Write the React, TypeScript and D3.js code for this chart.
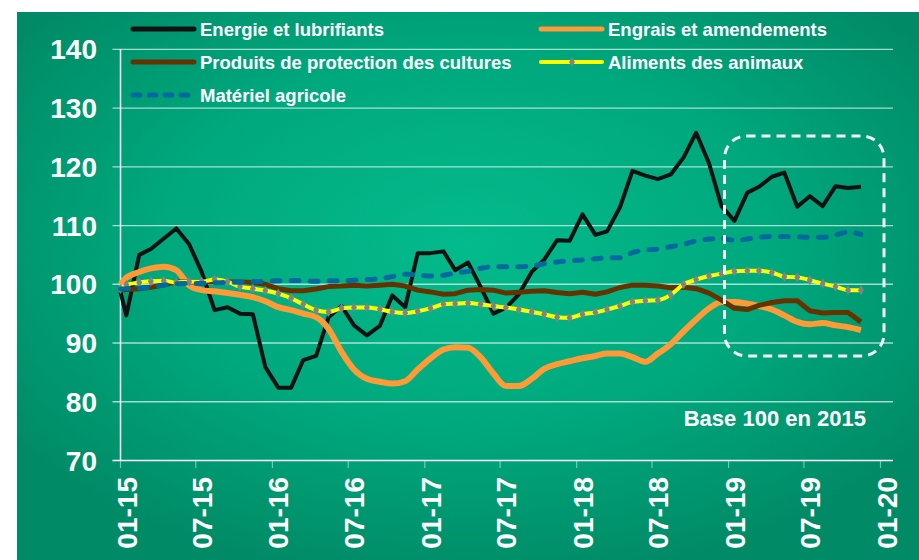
import React from 'react';
import * as d3 from 'd3';

const W = 919;
const H = 560;

const yTicks = [70, 80, 90, 100, 110, 120, 130, 140];
const xTickLabels = ['01-15', '07-15', '01-16', '07-16', '01-17', '07-17', '01-18', '07-18', '01-19', '07-19', '01-20'];

// indices, base 100 en 2015 (first point = start of Jan 2015, then mid-month)
const energie = [98.7, 94.7, 105.0, 106.0, 107.8, 109.5, 106.8, 102.1, 95.6, 96.1,
  95.0, 94.9, 85.9, 82.4, 82.4, 87.1, 87.8, 94.4, 96.3, 93.0,
  91.3, 92.9, 98.1, 96.1, 105.3, 105.3, 105.6, 102.4, 103.7, 99.6,
  95.0, 96.0, 98.3, 102.1, 104.2, 107.5, 107.4, 111.9, 108.4, 109.0,
  113.1, 119.3, 118.5, 117.9, 118.7, 121.6, 125.8, 120.6, 113.3, 110.8,
  115.6, 116.6, 118.3, 119.0, 113.2, 115.0, 113.3, 116.7, 116.4, 116.6];
const engrais = [100, 101.1, 102.1, 102.7, 103.0, 102.4, 99.8, 99.0, 98.8, 98.5,
  98.2, 97.8, 97.1, 96.1, 95.6, 95.0, 94.4, 92.4, 88.5, 85.5,
  83.9, 83.4, 83.1, 83.5, 85.5, 87.4, 88.9, 89.3, 89.2, 87.6,
  84.8, 82.7, 82.7, 83.9, 85.6, 86.4, 86.9, 87.4, 87.8, 88.2,
  88.2, 87.6, 86.8, 88.2, 89.8, 92.0, 94.0, 95.9, 97.0, 97.0,
  96.7, 96.3, 95.7, 94.7, 93.6, 93.2, 93.4, 93.0, 92.7, 92.2];
const protection = [99.0, 99.1, 99.25, 99.5, 99.9, 100.4, 100.4, 100.4, 100.4, 100.4,
  100.4, 100.3, 100.0, 99.25, 98.9, 98.9, 99.2, 99.6, 99.7, 99.85,
  99.7, 99.85, 100.0, 99.7, 99.0, 98.7, 98.3, 98.4, 99.0, 99.1,
  99.0, 98.5, 98.65, 98.8, 98.9, 98.6, 98.4, 98.65, 98.3, 98.7,
  99.45, 99.85, 99.85, 99.7, 99.4, 99.5, 99.25, 98.5, 97.3, 95.9,
  95.7, 96.4, 96.9, 97.2, 97.2, 95.5, 95.1, 95.2, 95.2, 93.6];
const aliments = [99.2, 99.9, 100.3, 100.5, 100.6, 100.3, 100.45, 100.45, 100.8, 100.45,
  99.6, 99.25, 98.9, 98.4, 97.6, 96.6, 95.6, 95.3, 95.9, 96.05,
  96.05, 95.75, 95.3, 95.1, 95.4, 95.9, 96.6, 96.7, 96.8, 96.6,
  96.3, 96.05, 95.7, 95.3, 94.9, 94.4, 94.3, 94.9, 95.2, 95.7,
  96.3, 97.0, 97.2, 97.3, 98.2, 100.0, 100.8, 101.4, 101.8, 102.2,
  102.3, 102.3, 102.0, 101.3, 101.2, 100.7, 100.1, 99.6, 99.0, 99.0];
const materiel = [99.2, 99.25, 99.3, 99.5, 99.85, 100.1, 100.15, 100.15, 100.25, 100.3,
  100.35, 100.45, 100.5, 100.6, 100.65, 100.6, 100.5, 100.6, 100.6, 100.7,
  100.8, 100.95, 101.3, 101.7, 101.6, 101.4, 101.55, 101.9, 102.2, 102.7,
  103.0, 103.0, 103.0, 103.1, 103.5, 103.8, 104.0, 104.15, 104.35, 104.5,
  104.5, 105.4, 105.8, 106.0, 106.4, 106.8, 107.4, 107.7, 107.8, 107.5,
  107.7, 108.0, 108.15, 108.15, 108.1, 108.0, 108.0, 108.4, 108.9, 108.5];

const dates = [new Date(2015, 0, 1), ...d3.range(59).map((i) => new Date(2015, i, 15))];
const tickDates = xTickLabels.map((l) => {
  const [m, yy] = l.split('-');
  return new Date(2000 + +yy, +m - 1, 1);
});

type Serie = {
  name: string;
  values: number[];
  color: string;
  width: number;
  dash?: string;
  smooth?: boolean;
  markers?: boolean;
};

const series: Serie[] = [
  { name: 'Energie et lubrifiants', values: energie, color: '#111111', width: 4 },
  { name: 'Engrais et amendements', values: engrais, color: '#ff9a36', width: 6, smooth: true },
  { name: 'Produits de protection des cultures', values: protection, color: '#663300', width: 5 },
  { name: 'Aliments des animaux', values: aliments, color: '#ffff00', width: 4, smooth: true, markers: true },
  { name: 'Matériel agricole', values: materiel, color: '#006aa0', width: 5, dash: '8,11', smooth: true },
];

const legendPos = [
  { x: 133, y: 29 }, { x: 541, y: 29 },
  { x: 133, y: 62 }, { x: 541, y: 62 },
  { x: 133, y: 95 },
];

const FONT = '"Liberation Sans", Arial, sans-serif';

export default function App() {
  const x = d3.scaleTime().domain([new Date(2015, 0, 1), new Date(2020, 0, 1)]).range([120.5, 880.5]);
  const y = d3.scaleLinear().domain([70, 140]).range([460.5, 49.3]);
  const diamond = d3.symbol(d3.symbolDiamond, 30)()!;

  return (
    <svg width={W} height={H} style={{ position: 'absolute', left: 0, top: 0, background: '#fff' }}
      fontFamily={FONT}>
      <defs>
        <radialGradient id="bg" cx="0.5" cy="0.42" r="0.62">
          <stop offset="0%" stopColor="#03bb8c" />
          <stop offset="55%" stopColor="#00a87d" />
          <stop offset="100%" stopColor="#008b66" />
        </radialGradient>
      </defs>
      <rect x={17} y={12} width={W - 17} height={H - 12} fill="url(#bg)" />

      {yTicks.map((t) => (
        <g key={t}>
          {t > 70 && (
            <line x1={112.5} x2={893} y1={y(t)} y2={y(t)} stroke="rgba(255,255,255,0.65)" strokeWidth={1.3} />
          )}
          <text x={97} y={y(t) + 10} textAnchor="end" fill="#fff" fontSize={28} fontWeight="bold">{t}</text>
        </g>
      ))}

      {tickDates.map((d, i) => (
        <g key={i}>
          <line x1={x(d)} x2={x(d)} y1={460.5} y2={468} stroke="rgba(255,255,255,0.45)" strokeWidth={1.2} />
          <text transform={`translate(${x(d)},477) rotate(-90)`} dy={16} textAnchor="end"
            fill="#fff" fontSize={28} fontWeight="bold">{xTickLabels[i]}</text>
        </g>
      ))}

      <line x1={120.5} x2={120.5} y1={49} y2={461} stroke="#fff" strokeWidth={1.5} />
      <line x1={112.5} x2={893} y1={460.5} y2={460.5} stroke="#fff" strokeWidth={1.5} />

      {series.map((s) => {
        const line = d3.line<number>()
          .x((_, i) => x(dates[i]))
          .y((v) => y(v))
          .curve(s.smooth ? d3.curveMonotoneX : d3.curveLinear);
        return (
          <g key={s.name}>
            <path d={line(s.values)!} fill="none" stroke={s.color} strokeWidth={s.width}
              strokeDasharray={s.dash} strokeLinecap={s.dash ? 'round' : 'butt'} strokeLinejoin="round" />
            {s.markers && s.values.map((v, i) => (
              <path key={i} d={diamond} transform={`translate(${x(dates[i])},${y(v)})`} fill="#828282" />
            ))}
          </g>
        );
      })}

      <rect x={724.5} y={136} width={159.5} height={220} rx={22} ry={22} fill="none"
        stroke="#f2f2f2" strokeWidth={3} strokeDasharray="9,6" />

      <text x={866} y={426} textAnchor="end" fill="#fff" fontSize={22} fontWeight="bold">Base 100 en 2015</text>

      {series.map((s, i) => {
        const p = legendPos[i];
        return (
          <g key={s.name} transform={`translate(${p.x},${p.y})`}>
            <line x1={0} x2={61} y1={0} y2={0} stroke={s.color}
              strokeWidth={s.markers ? 4 : 5} strokeDasharray={s.dash ? '7,9' : undefined}
              strokeLinecap="round" />
            {s.markers && <path d={diamond} transform="translate(31,0)" fill="#828282" />}
            <text x={67} y={6.5} fill="#fff" fontSize={18.5} fontWeight="bold">{s.name}</text>
          </g>
        );
      })}
    </svg>
  );
}
